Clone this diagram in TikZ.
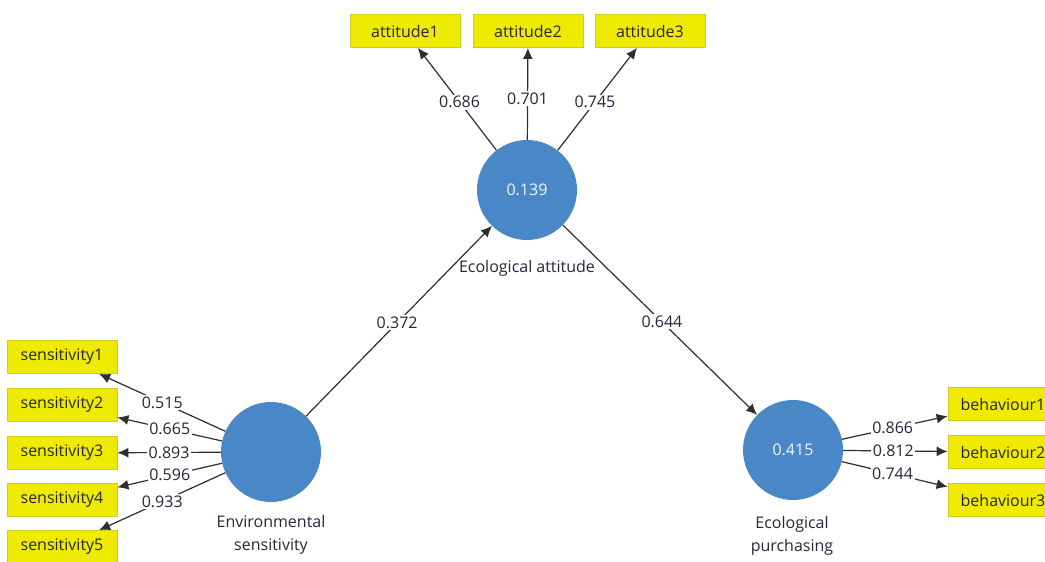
\documentclass[tikz,border=0pt]{standalone}
\usepackage{fontspec}
\setmainfont{Open Sans}
\usetikzlibrary{arrows.meta}
\definecolor{boxyellow}{HTML}{EEEA00}
\definecolor{boxedge}{HTML}{CFCB20}
\definecolor{lvblue}{HTML}{4A87C7}
\definecolor{txt}{HTML}{2A2438}
\definecolor{edge}{HTML}{2E2E2E}
\tikzset{
  ind/.style={rectangle, fill=boxyellow, draw=boxedge, line width=0.8pt,
    minimum width=110pt, minimum height=33pt, inner sep=0pt,
    font=\fontsize{16}{18}\selectfont, text=txt},
  lv/.style={circle, fill=lvblue, draw=none, minimum size=100pt, inner sep=0pt,
    font=\fontsize{16}{18}\selectfont, text=white!92!lvblue},
  lvname/.style={font=\fontsize{16}{23}\selectfont, text=txt, align=center, inner sep=1pt},
  conn/.style={draw=edge, line width=1.2pt, -{Latex[length=11pt,width=10pt]}},
  lbl/.style={fill=white, inner sep=1.5pt, font=\fontsize{16}{18}\selectfont, text=txt}
}
\begin{document}
\begin{tikzpicture}[x=1pt,y=-1pt]
\useasboundingbox (0,0) rectangle (1045,562);
% latent variables
\node[lv] (att) at (527,190) {0.139};
\node[lv] (env) at (271,452) {};
\node[lv] (pur) at (793,450) {0.415};
\node[lvname] (attname) at (527,268) {Ecological attitude};
\node[lvname] (envname) at (271,535) {Environmental\\sensitivity};
\node[lvname] (purname) at (792,536) {Ecological\\purchasing};
% indicators
\node[ind] (a1) at (405,31) {attitude1};
\node[ind] (a2) at (528,31) {attitude2};
\node[ind] (a3) at (650,31) {attitude3};
\node[ind] (s1) at (62,357) {sensitivity1};
\node[ind] (s2) at (62,405) {sensitivity2};
\node[ind] (s3) at (62,453) {sensitivity3};
\node[ind] (s4) at (62,500) {sensitivity4};
\node[ind] (s5) at (62,547) {sensitivity5};
\node[ind] (b1) at (1003,404) {behaviour1};
\node[ind] (b2) at (1003,452) {behaviour2};
\node[ind] (b3) at (1003,500) {behaviour3};
% loadings
\draw[conn] (att) -- (a1) node[lbl,pos=0.47] {0.686};
\draw[conn] (att) -- (a2) node[lbl,pos=0.45] {0.701};
\draw[conn] (att) -- (a3) node[lbl,pos=0.47] {0.745};
\draw[conn] (env) -- (s1) node[lbl,pos=0.5] {0.515};
\draw[conn] (env) -- (s2) node[lbl,pos=0.5] {0.665};
\draw[conn] (env) -- (s3) node[lbl,pos=0.5] {0.893};
\draw[conn] (env) -- (s4) node[lbl,pos=0.5] {0.596};
\draw[conn] (env) -- (s5) node[lbl,pos=0.5] {0.933};
\draw[conn] (pur) -- (b1) node[lbl,pos=0.48] {0.866};
\draw[conn] (pur) -- (b2) node[lbl,pos=0.48] {0.812};
\draw[conn] (pur) -- (b3) node[lbl,pos=0.48] {0.744};
% paths
\draw[conn] (env) -- (att) node[lbl,pos=0.49] {0.372};
\draw[conn] (att) -- (pur) node[lbl,pos=0.51] {0.644};
\end{tikzpicture}
\end{document}
